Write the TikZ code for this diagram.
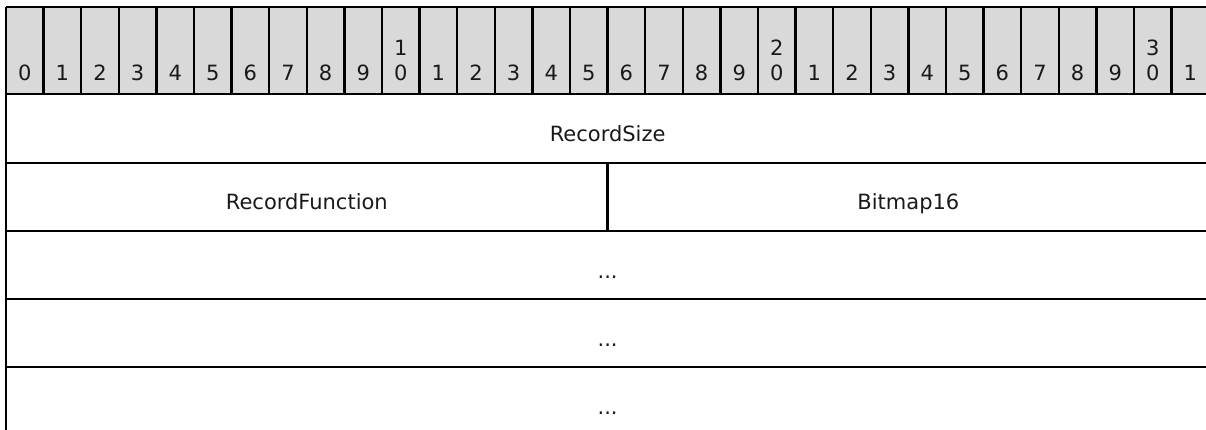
\documentclass[tikz,border=0pt]{standalone}
\usepackage{fontspec}
\setmainfont{DejaVu Sans}
\definecolor{hdr}{RGB}{217,217,217}
\begin{document}
\begin{tikzpicture}[x=1pt,y=-1pt,
  rule/.style={draw=black,line width=2.4pt},
  lbl/.style={font=\fontsize{21}{25}\selectfont,inner sep=0pt,anchor=base,text=black!90}]
\path[use as bounding box,clip] (0,0) rectangle (1206,430);
\def\W{37.6}
% header
\fill[hdr] (6,7) rectangle (1209.2,94);
\foreach \i in {0,...,32}{
  \draw[rule] ({6+\i*\W},7) -- ({6+\i*\W},94);
}
% header digits
\foreach \i in {0,...,31}{
  \pgfmathtruncatemacro{\d}{mod(\i,10)}
  \pgfmathtruncatemacro{\t}{div(\i,10)}
  \node[lbl] (b\i) at ({6+\i*\W+\W/2},81) {\d};
  \ifnum\d=0\ifnum\t>0
    \node[lbl] (t\i) at ({6+\i*\W+\W/2},56) {\t};
  \fi\fi
}
% grid lines
\foreach \y in {7,94,163,231,299,367,435}{
  \draw[rule] (6,\y) -- (1212,\y);
}
\draw[rule] (6,7) -- (6,440);
\draw[rule] (1209.2,7) -- (1209.2,440);
\draw[rule] (607.6,163) -- (607.6,231);
% fields
\node[lbl] (recsize) at (607.6,142) {RecordSize};
\node[lbl] (recfunc) at (306.8,210) {RecordFunction};
\node[lbl] (bitmap) at (908.4,210) {Bitmap16};
\node[lbl] (dotsA) at (607.6,278) {...};
\node[lbl] (dotsB) at (607.6,346) {...};
\node[lbl] (dotsC) at (607.6,414) {...};
\end{tikzpicture}
\end{document}
